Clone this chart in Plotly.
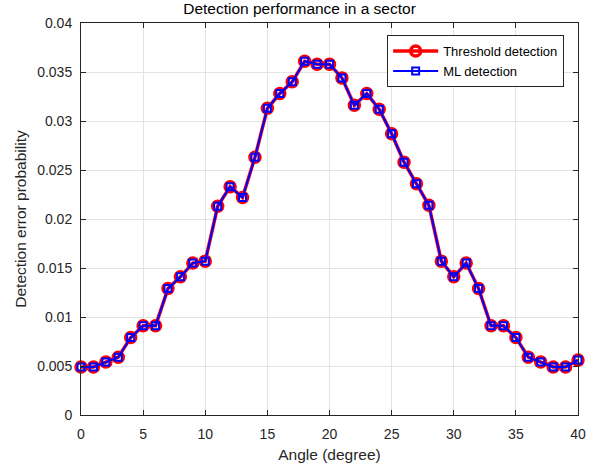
import plotly.graph_objects as go

angles = list(range(0, 41))
threshold_pe = [0.0049, 0.0049, 0.0054, 0.0059, 0.0079, 0.0091, 0.0091, 0.0129, 0.0141, 0.0155,
                0.0157, 0.0213, 0.0233, 0.0222, 0.0263, 0.0313, 0.0328, 0.0340, 0.0361, 0.0358,
                0.0358, 0.0344, 0.0316, 0.0328, 0.0312, 0.0287, 0.0258, 0.0236, 0.0214, 0.0157,
                0.0141, 0.0155, 0.0129, 0.0091, 0.0091, 0.0079, 0.0059, 0.0054, 0.0049, 0.0049,
                0.0056]
ml_pe = list(threshold_pe)

x_ticks = [0, 5, 10, 15, 20, 25, 30, 35, 40]
y_ticks = [0, 0.005, 0.01, 0.015, 0.02, 0.025, 0.03, 0.035, 0.04]
y_tick_labels = ["0", "0.005", "0.01", "0.015", "0.02", "0.025", "0.03", "0.035", "0.04"]

FONT = "Liberation Sans, Arial, sans-serif"

fig = go.Figure()
fig.add_trace(go.Scatter(
    x=angles, y=threshold_pe, mode="lines+markers", name="Threshold detection",
    line=dict(color="#ff0000", width=3.5), cliponaxis=False,
    marker=dict(symbol="circle-open", size=10, color="#ff0000", line=dict(width=3.5, color="#ff0000")),
))
fig.add_trace(go.Scatter(
    x=angles, y=ml_pe, mode="lines+markers", name="ML detection",
    line=dict(color="#0000ff", width=2), cliponaxis=False,
    marker=dict(symbol="square-open", size=7, color="#0000ff", line=dict(width=2, color="#0000ff")),
))

axis_common = dict(
    showgrid=True, gridcolor="#e3e3e3", gridwidth=1,
    showline=True, linecolor="#262626", linewidth=1, mirror="ticks",
    ticks="inside", ticklen=5, tickcolor="#262626",
    tickfont=dict(family=FONT, size=14, color="#262626"),
    zeroline=False, automargin=False,
)

fig.update_layout(
    width=599, height=469,
    margin=dict(l=81, r=21, t=23, b=54),
    paper_bgcolor="white", plot_bgcolor="white",
    title=dict(text="Detection performance in a sector", x=0.5, xanchor="center", y=0.993, yanchor="top",
               font=dict(family=FONT, size=15.5, color="#000000")),
    xaxis=dict(range=[0, 40], tickvals=x_ticks, ticktext=[str(v) for v in x_ticks],
               ticklabelstandoff=6,
               title=dict(text="Angle (degree)", standoff=8,
                          font=dict(family=FONT, size=15.5, color="#262626")),
               **axis_common),
    yaxis=dict(range=[0, 0.04], tickvals=y_ticks, ticktext=y_tick_labels,
               ticklabelstandoff=5,
               title=dict(text="Detection error probability", standoff=6,
                          font=dict(family=FONT, size=15.5, color="#262626")),
               **axis_common),
    legend=dict(x=0.616, y=0.969, xanchor="left", yanchor="top",
                bgcolor="white", bordercolor="#262626", borderwidth=1,
                font=dict(family=FONT, size=13, color="#000000"),
                tracegroupgap=0, itemwidth=45),
    showlegend=True,
)

fig.write_html("out.html")
